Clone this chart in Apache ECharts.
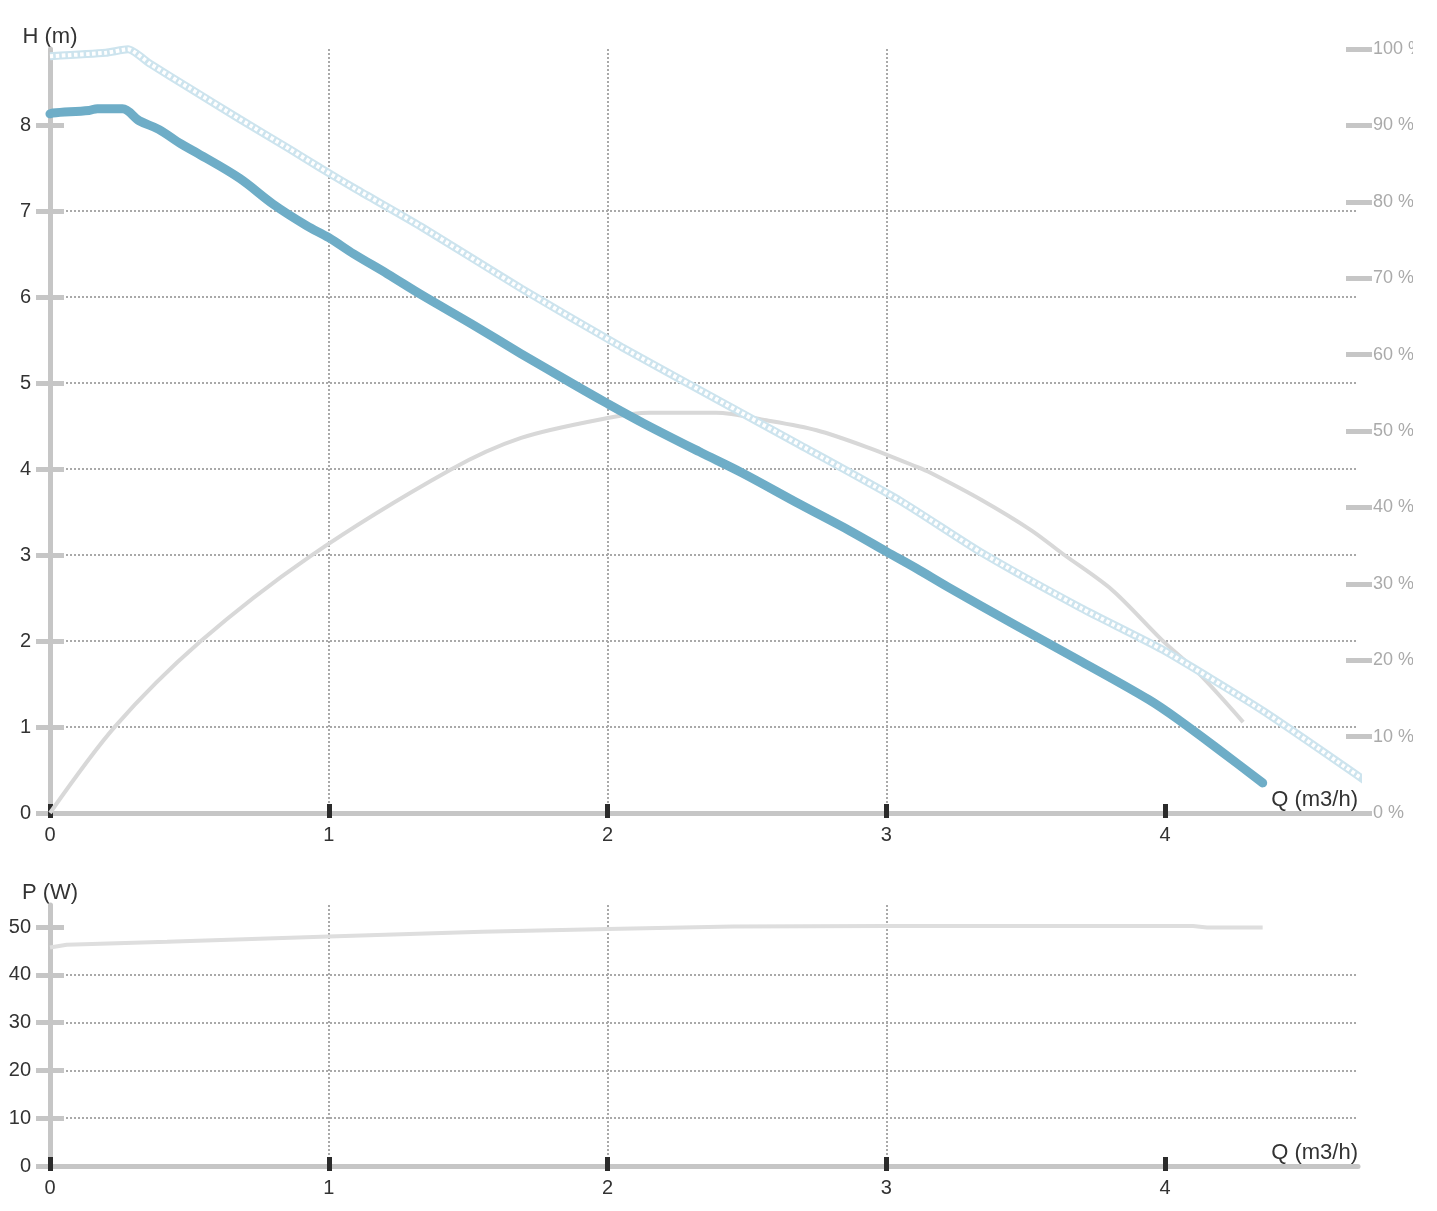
<!DOCTYPE html>
<html>
<head>
<meta charset="utf-8">
<script src="https://cdn.jsdelivr.net/npm/echarts@6/dist/echarts.min.js"></script>
<style>
html,body{margin:0;padding:0;background:#fff;}
#c{width:1413px;height:1211px;}
</style>
</head>
<body>
<div id="c"></div>
<script>
// ---- data ----
const xTicks = [0, 1, 2, 3, 4];
const hTicks = [0, 1, 2, 3, 4, 5, 6, 7, 8];
const pTicks = [0, 10, 20, 30, 40, 50];

// head curve (m)
const headQ = [0, 0.01, 0.14, 0.17, 0.26, 0.32, 0.39, 0.47, 0.53, 0.68, 0.80, 0.92, 1.0, 1.09, 1.21, 1.33, 1.51, 1.69, 1.87, 2.0, 2.13, 2.33, 2.48, 2.69, 2.87, 3.0, 3.11, 3.22, 3.46, 3.70, 3.94, 4.05, 4.2, 4.35];
const headH = [8.13, 8.14, 8.17, 8.19, 8.19, 8.05, 7.95, 7.78, 7.67, 7.38, 7.08, 6.83, 6.69, 6.50, 6.27, 6.03, 5.69, 5.34, 5.00, 4.76, 4.53, 4.20, 3.96, 3.59, 3.28, 3.04, 2.84, 2.63, 2.19, 1.76, 1.32, 1.08, 0.72, 0.35];

// max head curve (m), dotted light blue
const maxQ = [0, 0.2, 0.28, 0.36, 0.5, 0.68, 0.86, 0.97, 1.10, 1.33, 1.69, 2.05, 2.33, 2.69, 3.05, 3.34, 3.70, 3.99, 4.35, 4.72];
const maxH = [8.80, 8.84, 8.88, 8.71, 8.43, 8.07, 7.72, 7.50, 7.25, 6.82, 6.10, 5.42, 4.92, 4.28, 3.63, 3.03, 2.38, 1.90, 1.19, 0.37];

// efficiency (%)
const effQ = [0, 0.233, 0.538, 0.933, 1.435, 1.69, 2.0, 2.15, 2.39, 2.57, 2.75, 2.93, 3.11, 3.16, 3.34, 3.52, 3.63, 3.81, 3.99, 4.12, 4.28];
const effV = [0, 11.3, 22.4, 33.6, 44.9, 49.1, 51.7, 52.4, 52.4, 51.4, 50.1, 47.9, 45.3, 44.5, 41.0, 37.0, 34.0, 29.2, 22.6, 18.3, 11.9];

// power (W)
const powQ = [0, 0.06, 0.42, 1.0, 1.55, 2.0, 2.45, 3.0, 4.1, 4.15, 4.35];
const powW = [45.7, 46.3, 46.9, 48.0, 49.0, 49.6, 50.1, 50.2, 50.2, 49.9, 49.9];

const zip = (a, b) => a.map((v, i) => [v, b[i]]);

// ---- styling ----
const FONT = "'Liberation Sans', Arial, sans-serif";
const AXIS_GRAY = '#c6c6c6';
const TICK_DARK = '#2b2b2b';
const GRID_LINE = {color: '#a9a9a9', width: 2, type: [2, 2]};
const X_MAX = 4.692;
const H_MAX = 8.884;
const P_MAX = 54.6;

function xMain(grid) {
  return {
    gridIndex: grid, type: 'value', position: 'bottom', min: 0, max: X_MAX, interval: 1,
    axisLine: {show: true, onZero: false, lineStyle: {color: AXIS_GRAY, width: 5}},
    axisTick: {show: true, customValues: xTicks, length: 5, lineStyle: {color: TICK_DARK, width: 5}},
    axisLabel: {customValues: xTicks, margin: 12, color: '#333', fontSize: 20, fontFamily: FONT},
    splitLine: {show: true, showMinLine: false, showMaxLine: false, lineStyle: GRID_LINE},
    name: 'Q (m3/h)', nameLocation: 'end', nameGap: 0,
    nameTextStyle: {align: 'right', verticalAlign: 'bottom', padding: [0, 0, 2, 0], fontSize: 22, color: '#333', fontFamily: FONT}
  };
}
function xOverlay(grid) {
  return {
    gridIndex: grid, type: 'value', position: 'bottom', min: 0, max: X_MAX, interval: 1,
    axisLine: {show: false, onZero: false},
    axisTick: {show: true, inside: true, customValues: xTicks, length: 9, lineStyle: {color: TICK_DARK, width: 5}},
    axisLabel: {show: false}, splitLine: {show: false}
  };
}
function yMain(grid, max, interval, ticks, name) {
  return {
    gridIndex: grid, type: 'value', position: 'left', min: 0, max: max, interval: interval,
    axisLine: {show: true, lineStyle: {color: AXIS_GRAY, width: 5}},
    axisTick: {show: true, customValues: ticks, length: 14, lineStyle: {color: AXIS_GRAY, width: 5}},
    axisLabel: {customValues: ticks, margin: 19, color: '#333', fontSize: 20, fontFamily: FONT},
    splitLine: {show: true, showMinLine: false, showMaxLine: false, lineStyle: GRID_LINE},
    name: name, nameLocation: 'end', nameGap: 1,
    nameTextStyle: {align: 'center', verticalAlign: 'bottom', fontSize: 22, color: '#333', fontFamily: FONT}
  };
}
function yOverlay(grid, max, interval, ticks, pos, len) {
  return {
    gridIndex: grid, type: 'value', position: pos, min: 0, max: max, interval: interval,
    axisLine: {show: false},
    axisTick: {show: true, inside: true, customValues: ticks, length: len, lineStyle: {color: AXIS_GRAY, width: 5}},
    axisLabel: {show: false}, splitLine: {show: false}
  };
}

const chart = echarts.init(document.getElementById('c'), null, {renderer: 'canvas'});
chart.setOption({
  animation: false,
  backgroundColor: '#fff',
  grid: [
    {left: 50, top: 49, width: 1308, height: 764, containLabel: false, outerBoundsMode: 'none'},
    {left: 50, top: 905, width: 1308, height: 261, containLabel: false, outerBoundsMode: 'none'}
  ],
  xAxis: [xMain(0), xOverlay(0), xMain(1), xOverlay(1)],
  yAxis: [
    yMain(0, H_MAX, 1, hTicks, 'H (m)'),
    yOverlay(0, H_MAX, 1, hTicks, 'left', 14),
    {
      gridIndex: 0, type: 'value', position: 'right', min: 0, max: 100, interval: 10,
      axisLine: {show: false},
      axisTick: {show: true, length: 14, lineStyle: {color: AXIS_GRAY, width: 5}},
      axisLabel: {margin: 15, color: '#aaaaaa', fontSize: 18, fontFamily: FONT, formatter: '{value} %'},
      splitLine: {show: false}
    },
    yOverlay(0, 100, 10, undefined, 'right', 12),
    yMain(1, P_MAX, 10, pTicks, 'P (W)'),
    yOverlay(1, P_MAX, 10, pTicks, 'left', 14)
  ],
  series: [
    {
      name: 'eff', type: 'line', xAxisIndex: 0, yAxisIndex: 2, data: zip(effQ, effV),
      showSymbol: false, smooth: 0.3, z: 2,
      lineStyle: {color: '#d8d8d8', width: 4}
    },
    {
      name: 'hmax', type: 'line', xAxisIndex: 0, yAxisIndex: 0, data: zip(maxQ, maxH),
      showSymbol: false, smooth: 0.2, clip: false, z: 3,
      lineStyle: {color: '#cde4ee', width: 8}
    },
    {
      name: 'hmax-ring', type: 'line', xAxisIndex: 0, yAxisIndex: 0, data: zip(maxQ, maxH),
      showSymbol: false, smooth: 0.2, clip: false, z: 3,
      lineStyle: {color: '#ffffff', width: 4, type: [3.5, 2.5]}
    },
    {
      name: 'head', type: 'line', xAxisIndex: 0, yAxisIndex: 0, data: zip(headQ, headH),
      showSymbol: false, smooth: 0.35, z: 5,
      lineStyle: {color: '#6eadc7', width: 9, cap: 'round', join: 'round'}
    },
    {
      name: 'power', type: 'line', xAxisIndex: 2, yAxisIndex: 4, data: zip(powQ, powW),
      showSymbol: false, z: 2,
      lineStyle: {color: '#dedede', width: 4}
    }
  ]
});
</script>
</body>
</html>
